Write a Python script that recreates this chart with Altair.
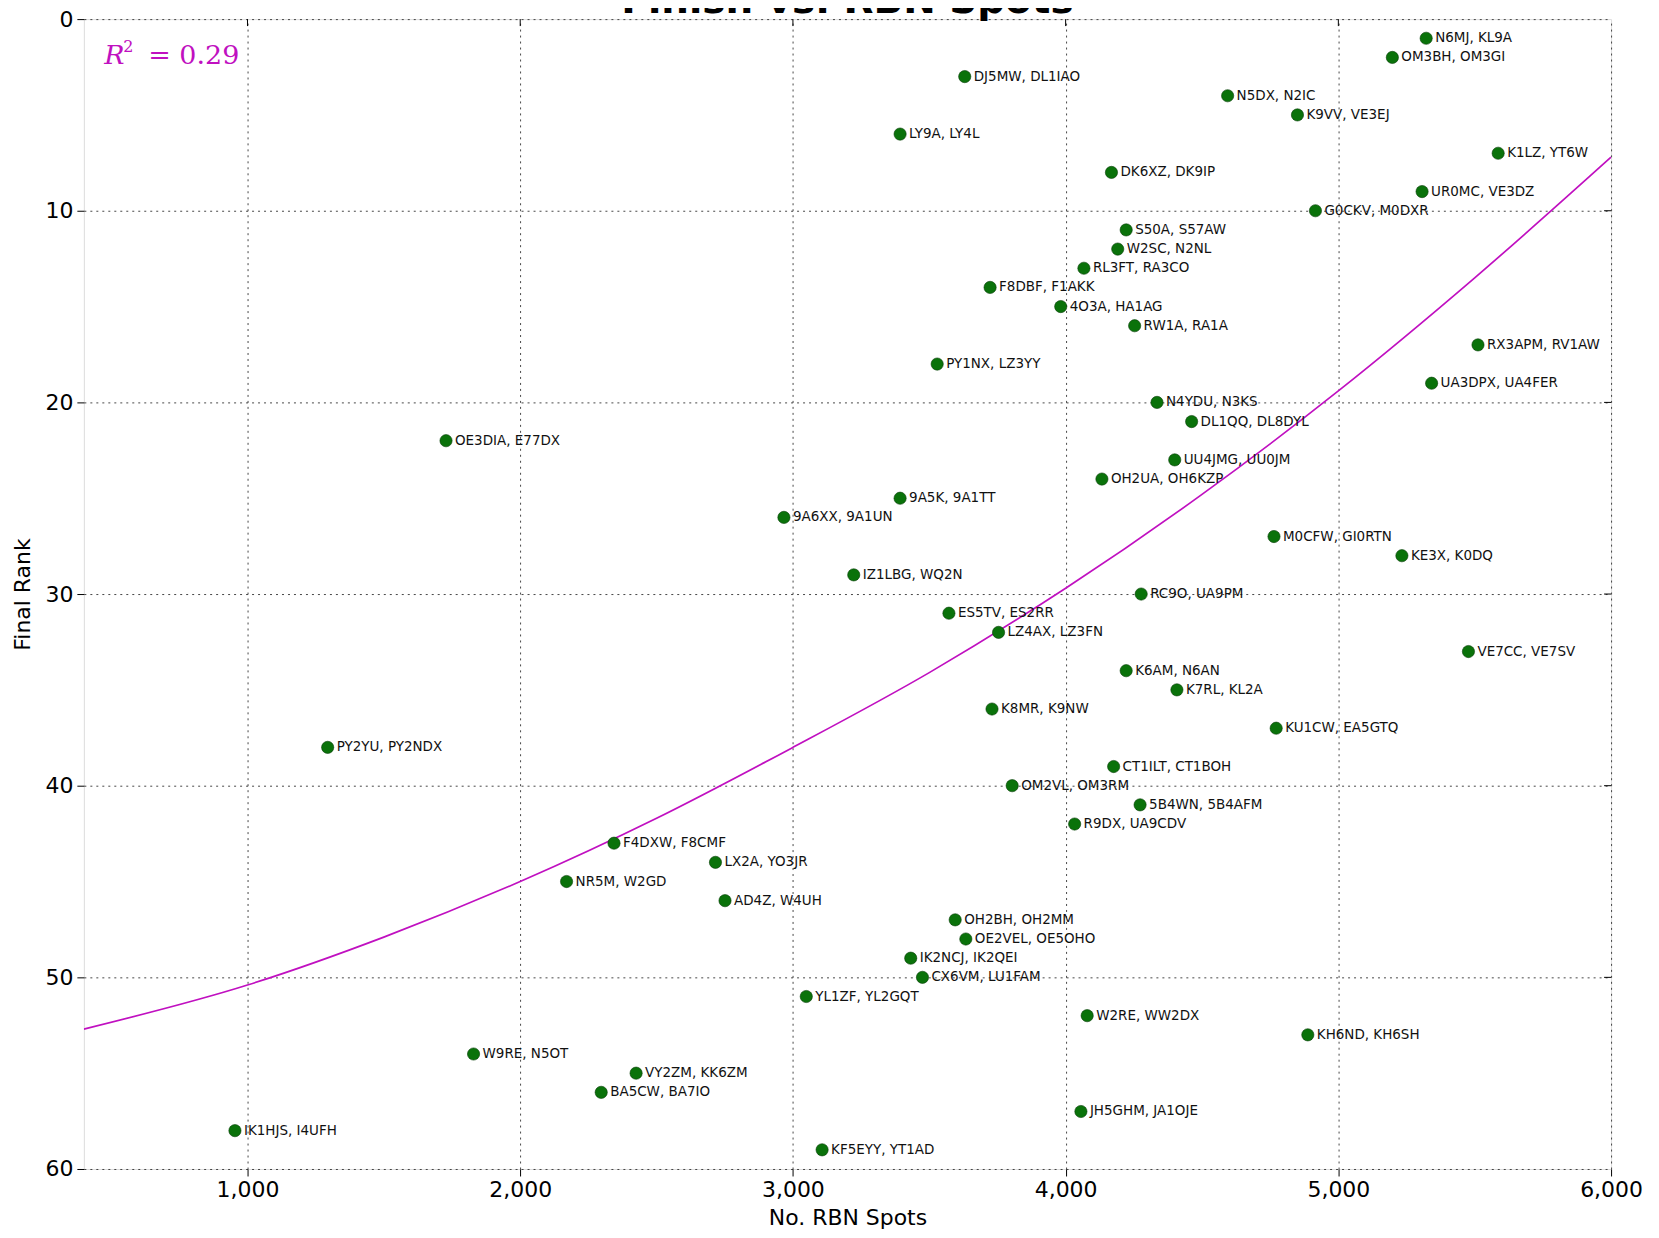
import altair as alt
import pandas as pd

# ---- data ----
teams = [
    "N6MJ, KL9A", "OM3BH, OM3GI", "DJ5MW, DL1IAO", "N5DX, N2IC", "K9VV, VE3EJ",
    "LY9A, LY4L", "K1LZ, YT6W", "DK6XZ, DK9IP", "UR0MC, VE3DZ", "G0CKV, M0DXR",
    "S50A, S57AW", "W2SC, N2NL", "RL3FT, RA3CO", "F8DBF, F1AKK", "4O3A, HA1AG",
    "RW1A, RA1A", "RX3APM, RV1AW", "PY1NX, LZ3YY", "UA3DPX, UA4FER", "N4YDU, N3KS",
    "DL1QQ, DL8DYL", "OE3DIA, E77DX", "UU4JMG, UU0JM", "OH2UA, OH6KZP", "9A5K, 9A1TT",
    "9A6XX, 9A1UN", "M0CFW, GI0RTN", "KE3X, K0DQ", "IZ1LBG, WQ2N", "RC9O, UA9PM",
    "ES5TV, ES2RR", "LZ4AX, LZ3FN", "VE7CC, VE7SV", "K6AM, N6AN", "K7RL, KL2A",
    "K8MR, K9NW", "KU1CW, EA5GTQ", "PY2YU, PY2NDX", "CT1ILT, CT1BOH", "OM2VL, OM3RM",
    "5B4WN, 5B4AFM", "R9DX, UA9CDV", "F4DXW, F8CMF", "LX2A, YO3JR", "NR5M, W2GD",
    "AD4Z, W4UH", "OH2BH, OH2MM", "OE2VEL, OE5OHO", "IK2NCJ, IK2QEI", "CX6VM, LU1FAM",
    "YL1ZF, YL2GQT", "W2RE, WW2DX", "KH6ND, KH6SH", "W9RE, N5OT", "VY2ZM, KK6ZM",
    "BA5CW, BA7IO", "JH5GHM, JA1OJE", "IK1HJS, I4UFH", "KF5EYY, YT1AD",
]
ranks = list(range(1, 60))
spots = [
    5322, 5198, 3630, 4594, 4850,
    3393, 5586, 4168, 5307, 4916,
    4222, 4191, 4067, 3723, 3982,
    4253, 5512, 3529, 5342, 4335,
    4462, 1728, 4400, 4133, 3393,
    2967, 4764, 5233, 3223, 4277,
    3572, 3754, 5477, 4222, 4408,
    3730, 4772, 1294, 4176, 3804,
    4273, 4033, 2344, 2716, 2170,
    2751, 3595, 3634, 3432, 3475,
    3049, 4079, 4888, 1829, 2425,
    2297, 4056, 954, 3107,
]

# fitted curve
fit_spots = [400, 1000, 1500, 2000, 2500, 3000, 3500, 4000, 4500, 5000, 5500, 6000]
fit_rank = [52.7, 50.4, 47.9, 45.0, 41.7, 38.0, 34.1, 29.7, 24.8, 19.4, 13.5, 7.2]

x_ticks = [1000, 2000, 3000, 4000, 5000, 6000]
y_ticks = [0, 10, 20, 30, 40, 50, 60]
r2_text = "0.29"
title_text = "Finish vs. RBN Spots"

# ---- chart ----
W, H = 1530, 1152
FONT = "DejaVu Sans"
MAGENTA = "#c010c0"

pts = pd.DataFrame({"team": teams, "rank": ranks, "spots": spots})
fit = pd.DataFrame({"spots": fit_spots, "rank": fit_rank})

xscale = alt.Scale(domain=[400, 6000], nice=False, zero=False)
yscale = alt.Scale(domain=[0, 60], reverse=True, nice=False, zero=False)

xaxis = alt.Axis(
    values=x_ticks, format=",d", title="No. RBN Spots",
    labelFontSize=22, labelFont=FONT, labelColor="#000",
    titleFontSize=22, titleFont=FONT, titleFontWeight="normal", titleColor="#000",
    titleY=49, titleBaseline="middle",
    tickSize=7, tickColor="#000", labelPadding=4, domain=False,
    grid=True, gridDash=[2, 4], gridColor="#333", gridOpacity=0.9, gridWidth=1,
    labelFlush=False, labelOverlap=False, labelBound=False,
)
yaxis = alt.Axis(
    values=y_ticks, title="Final Rank",
    labelFontSize=22, labelFont=FONT, labelColor="#000",
    titleFontSize=22, titleFont=FONT, titleFontWeight="normal", titleColor="#000",
    titleX=-61, titleY=H / 2, titleAngle=270, titleBaseline="middle", titleAlign="center",
    tickSize=7, tickColor="#000", labelPadding=4, domain=False,
    grid=True, gridDash=[2, 4], gridColor="#333", gridOpacity=0.9, gridWidth=1,
    labelFlush=False, labelOverlap=False, labelBound=False,
)

curve = alt.Chart(fit).mark_line(
    color=MAGENTA, strokeWidth=1.7, interpolate="monotone", clip=True
).encode(
    x=alt.X("spots:Q", scale=xscale, axis=xaxis),
    y=alt.Y("rank:Q", scale=yscale, axis=yaxis),
)

dots = alt.Chart(pts).mark_point(
    shape="circle", filled=True, size=150, fill="#0a720a", stroke="#053d05",
    strokeWidth=0.6, opacity=1,
).encode(
    x=alt.X("spots:Q", scale=xscale),
    y=alt.Y("rank:Q", scale=yscale),
)

labels = alt.Chart(pts).mark_text(
    align="left", baseline="middle", dx=9, fontSize=13.5, font=FONT, color="#111"
).encode(
    x=alt.X("spots:Q", scale=xscale),
    y=alt.Y("rank:Q", scale=yscale),
    text="team:N",
)

# inward ticks on the right and top borders
rt = pd.DataFrame({"rank": y_ticks[1:-1]})
right_ticks = alt.Chart(rt).mark_rule(color="#000", strokeWidth=1).encode(
    y=alt.Y("rank:Q", scale=yscale), x=alt.value(W - 7), x2=alt.value(W)
)
tt = pd.DataFrame({"spots": x_ticks[:-1]})
top_ticks = alt.Chart(tt).mark_rule(color="#000", strokeWidth=1).encode(
    x=alt.X("spots:Q", scale=xscale), y=alt.value(0), y2=alt.value(7)
)

# R^2 annotation
ann = pd.DataFrame({"spots": [475], "rank": [2.35]})
r_mark = alt.Chart(ann).mark_text(
    align="left", baseline="alphabetic", fontSize=27, font="DejaVu Serif",
    fontStyle="italic", color=MAGENTA,
).encode(x=alt.X("spots:Q", scale=xscale), y=alt.Y("rank:Q", scale=yscale), text=alt.value("R"))
sup_mark = alt.Chart(ann).mark_text(
    align="left", baseline="alphabetic", fontSize=16, font="DejaVu Serif",
    color=MAGENTA, dx=19, dy=-12,
).encode(x=alt.X("spots:Q", scale=xscale), y=alt.Y("rank:Q", scale=yscale), text=alt.value("2"))
eq_mark = alt.Chart(ann).mark_text(
    align="left", baseline="alphabetic", fontSize=27, font="DejaVu Serif",
    color=MAGENTA, dx=44,
).encode(x=alt.X("spots:Q", scale=xscale), y=alt.Y("rank:Q", scale=yscale),
         text=alt.value("=  " + r2_text))

# chart title, cut at the top edge as in the reference
title_df = pd.DataFrame({"t": [title_text]})
title_mark = alt.Chart(title_df).mark_text(
    align="center", baseline="alphabetic", fontSize=39, font=FONT,
    fontWeight="bold", color="#000",
).encode(x=alt.value(W / 2), y=alt.value(-6), text="t:N")

chart = alt.layer(
    curve, dots, labels, right_ticks, top_ticks, r_mark, sup_mark, eq_mark, title_mark
).properties(
    width=W, height=H,
    autosize=alt.AutoSizeParams(type="none"),
    padding={"left": 76, "top": 10, "right": 40, "bottom": 60},
).configure_view(
    stroke="#000", strokeWidth=1.6
).configure(background="white")

chart.save("out.html", embed_options={"renderer": "svg", "actions": False})
